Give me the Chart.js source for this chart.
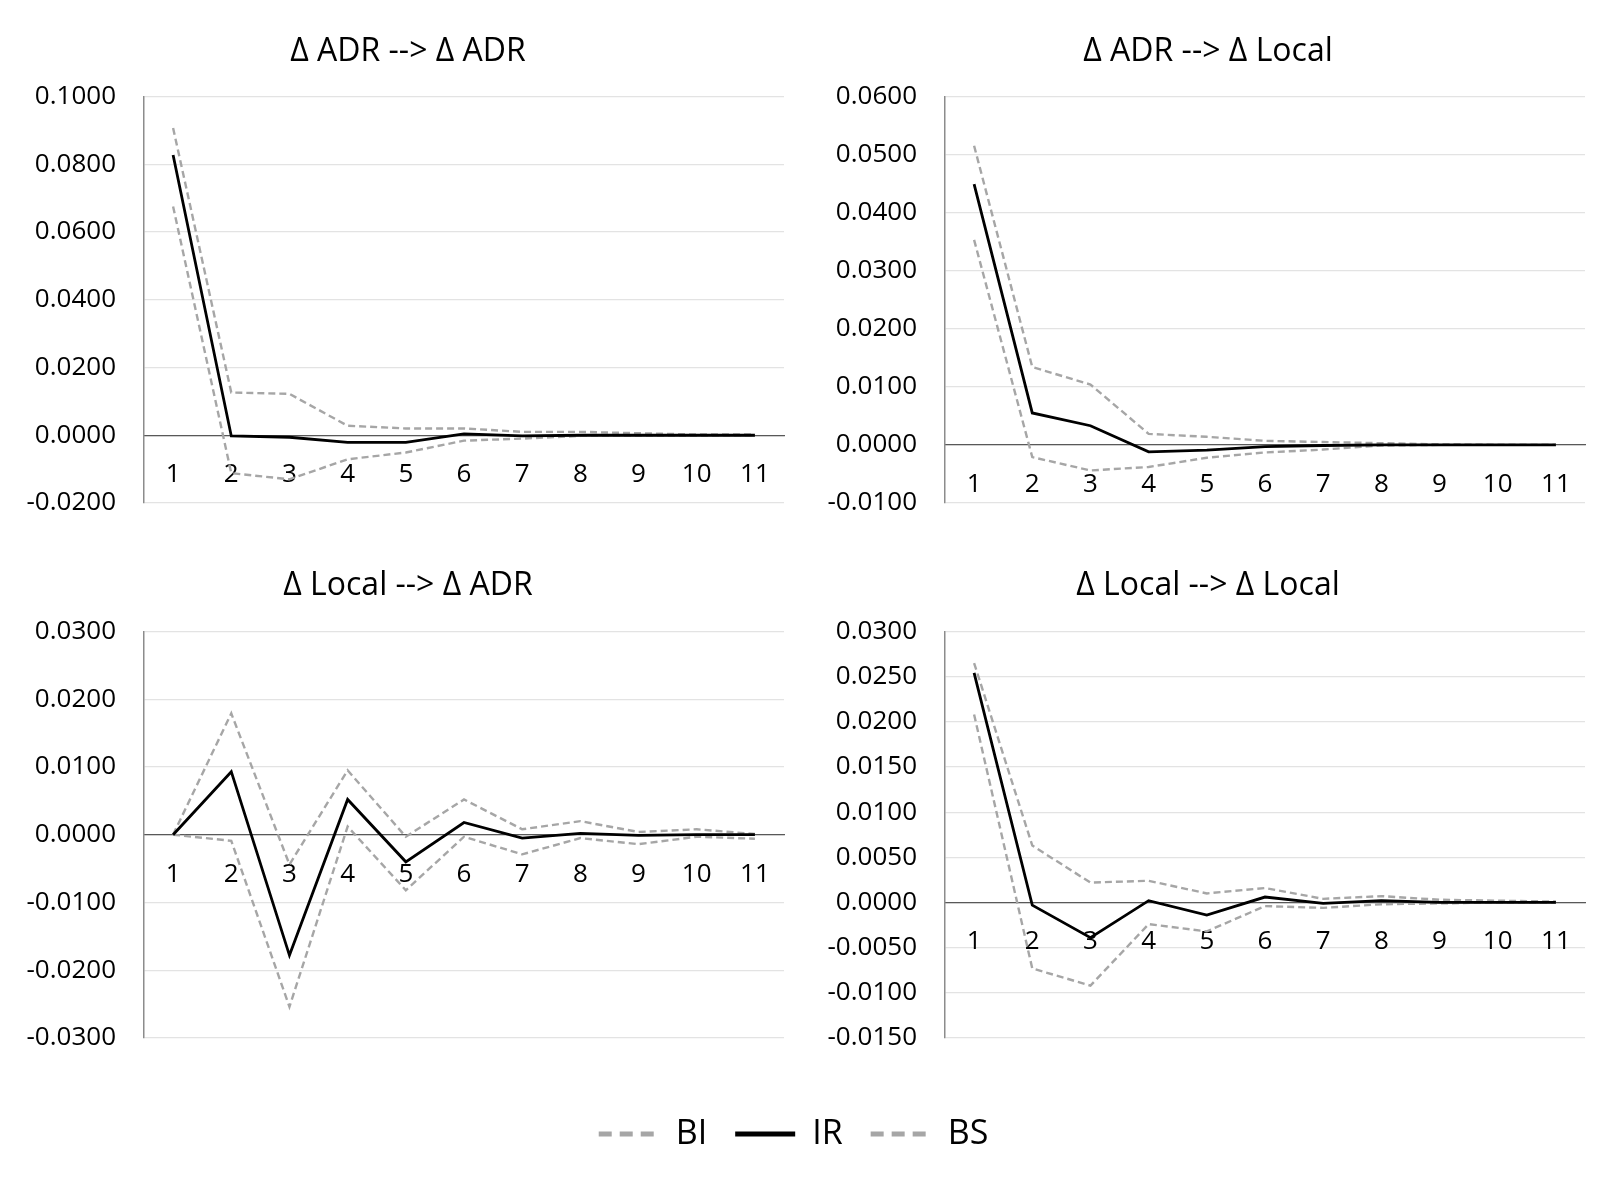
<!DOCTYPE html>
<html>
<head>
<meta charset="utf-8">
<script src="https://cdn.jsdelivr.net/npm/chart.js@4.4.1/dist/chart.umd.min.js"></script>
<style>
  html, body { margin: 0; padding: 0; background: #fff; }
  #wrap { position: relative; width: 1613px; height: 1178px; overflow: hidden; background: #fff; }
  canvas { position: absolute; }
</style>
</head>
<body>
<div id="wrap">
  <canvas id="c1" width="806" height="547" style="left:0;top:0"></canvas>
  <canvas id="c2" width="807" height="547" style="left:806px;top:0"></canvas>
  <canvas id="c3" width="806" height="549" style="left:0;top:541px"></canvas>
  <canvas id="c4" width="807" height="549" style="left:806px;top:541px"></canvas>
  <canvas id="legend" width="1587" height="89" style="left:0;top:1089px"></canvas>
</div>
<script>
// impulse response periods
const periods = ['1', '2', '3', '4', '5', '6', '7', '8', '9', '10', '11'];

// Δ ADR --> Δ ADR
const adrAdrBI = [0.0675, -0.0112, -0.0130, -0.0071, -0.0051, -0.0016, -0.0010, -0.0002, -0.0002, -0.0002, 0.0000];
const adrAdrIR = [0.0827, -0.0002, -0.0006, -0.0021, -0.0021, 0.0004, -0.0002, 0.0000, 0.0000, 0.0000, 0.0000];
const adrAdrBS = [0.0907, 0.0126, 0.0122, 0.0028, 0.0020, 0.0020, 0.0010, 0.0010, 0.0006, 0.0002, 0.0002];

// Δ ADR --> Δ Local
const adrLocBI = [0.0353, -0.0021, -0.0044, -0.0038, -0.0022, -0.0013, -0.0008, -0.0001, 0.0000, 0.0000, 0.0000];
const adrLocIR = [0.0449, 0.0055, 0.0033, -0.0012, -0.0009, -0.0003, -0.0001, 0.0000, 0.0000, 0.0000, 0.0000];
const adrLocBS = [0.0515, 0.0134, 0.0104, 0.0019, 0.0014, 0.0007, 0.0005, 0.0003, 0.0001, 0.0000, 0.0000];

// Δ Local --> Δ ADR
const locAdrBI = [0.0000, -0.0009, -0.0254, 0.0012, -0.0082, -0.0003, -0.0029, -0.0005, -0.0014, -0.0003, -0.0006];
const locAdrIR = [0.0000, 0.0093, -0.0178, 0.0052, -0.0040, 0.0018, -0.0005, 0.0002, -0.0001, 0.0000, 0.0000];
const locAdrBS = [0.0000, 0.0179, -0.0044, 0.0095, -0.0003, 0.0052, 0.0008, 0.0020, 0.0004, 0.0008, 0.0001];

// Δ Local --> Δ Local
const locLocBI = [0.0208, -0.0073, -0.0092, -0.0024, -0.0032, -0.0004, -0.0006, -0.0002, -0.0001, 0.0000, 0.0000];
const locLocIR = [0.0254, -0.0003, -0.0039, 0.0002, -0.0014, 0.0006, -0.0001, 0.0002, 0.0000, 0.0000, 0.0000];
const locLocBS = [0.0265, 0.0063, 0.0022, 0.0024, 0.0010, 0.0016, 0.0004, 0.0007, 0.0003, 0.0002, 0.0001];

// axis ranges: [min, max, step]
const adrAdrRange = [-0.02, 0.10, 0.02];
const adrLocRange = [-0.01, 0.06, 0.01];
const locAdrRange = [-0.03, 0.03, 0.01];
const locLocRange = [-0.015, 0.03, 0.005];

const seriesNames = ['BI', 'IR', 'BS'];

Chart.defaults.font.family = '"Open Sans", sans-serif';
Chart.defaults.color = '#000';

const GREY = '#a6a6a6';

function lineSets(bi, ir, bs){
  return [
    { label: seriesNames[1], data: ir, borderColor: '#000', borderWidth: 2.8 },
    { label: seriesNames[0], data: bi, borderColor: GREY, borderWidth: 2.4, borderDash: [7, 4] },
    { label: seriesNames[2], data: bs, borderColor: GREY, borderWidth: 2.4, borderDash: [7, 4] }
  ].map(d => Object.assign(d, { pointRadius: 0, tension: 0, fill: false }));
}

function fmt(v){
  const n = Math.abs(v) < 1e-9 ? 0 : Number(v);
  return n.toFixed(4);
}

// axisW: width of the value axis; spacer: empty right-hand strip so the
// title centres over the whole panel like the original
function makeChart(id, title, bi, ir, bs, range, axisW, spacer, pad, titlePad){
  const [min, max, step] = range;
  return new Chart(document.getElementById(id), {
    type: 'line',
    data: { labels: periods, datasets: lineSets(bi, ir, bs) },
    options: {
      responsive: false,
      animation: false,
      events: [],
      layout: { padding: pad },
      plugins: {
        legend: { display: false },
        tooltip: { enabled: false },
        title: {
          display: true, text: title, color: '#000',
          font: { size: 32, weight: 'normal' },
          padding: titlePad
        }
      },
      scales: {
        x: {
          position: { y: 0 },
          offset: true,
          grid: { display: false, drawTicks: false },
          border: { display: true, color: '#595959', width: 1.2 },
          ticks: { font: { size: 26 }, color: '#000', padding: 24, autoSkip: false, maxRotation: 0 }
        },
        y: {
          min, max,
          grid: { color: '#e3e3e3', lineWidth: 1.2, drawTicks: false },
          border: { display: true, color: '#8c8c8c', width: 1.5 },
          ticks: {
            stepSize: step, font: { size: 26 }, color: '#000', padding: 28,
            callback: v => fmt(v)
          },
          afterFit: s => { s.width = axisW; }
        },
        ySpacer: {
          position: 'right',
          grid: { display: false, drawTicks: false },
          border: { display: false },
          ticks: { display: false },
          afterFit: s => { s.width = spacer; }
        }
      }
    }
  });
}

makeChart('c1', 'Δ ADR --> Δ ADR', adrAdrBI, adrAdrIR, adrAdrBS, adrAdrRange, 124, 12,
  { left: 20, right: 10, top: 0, bottom: 44 }, { top: 33, bottom: 25 });
makeChart('c2', 'Δ ADR --> Δ Local', adrLocBI, adrLocIR, adrLocBS, adrLocRange, 123, 9,
  { left: 16, right: 19, top: 0, bottom: 44 }, { top: 33, bottom: 25 });
makeChart('c3', 'Δ Local --> Δ ADR', locAdrBI, locAdrIR, locAdrBS, locAdrRange, 124, 12,
  { left: 20, right: 10, top: 0, bottom: 52 }, { top: 26, bottom: 26 });
makeChart('c4', 'Δ Local --> Δ Local', locLocBI, locLocIR, locLocBS, locLocRange, 123, 9,
  { left: 16, right: 19, top: 0, bottom: 52 }, { top: 26, bottom: 26 });

// shared legend, dashes taken from each dataset
const baseLabels = Chart.defaults.plugins.legend.labels.generateLabels;
new Chart(document.getElementById('legend'), {
  type: 'line',
  data: {
    labels: periods,
    datasets: [
      { label: seriesNames[0], data: [], borderColor: GREY, borderWidth: 5, borderDash: [13, 8] },
      { label: seriesNames[1], data: [], borderColor: '#000', borderWidth: 5 },
      { label: seriesNames[2], data: [], borderColor: GREY, borderWidth: 5, borderDash: [13, 8] }
    ]
  },
  options: {
    responsive: false,
    animation: false,
    events: [],
    scales: { x: { display: false }, y: { display: false } },
    plugins: {
      tooltip: { enabled: false },
      legend: {
        display: true,
        position: 'top',
        maxHeight: 89,
        labels: {
          usePointStyle: true, pointStyle: 'line', pointStyleWidth: 60,
          font: { size: 34 }, color: '#000', padding: 28,
          generateLabels: chart => baseLabels(chart).map(item => Object.assign(item, {
            lineDash: chart.data.datasets[item.datasetIndex].borderDash || [],
            lineWidth: chart.data.datasets[item.datasetIndex].borderWidth
          }))
        }
      }
    }
  }
});
</script>
</body>
</html>
